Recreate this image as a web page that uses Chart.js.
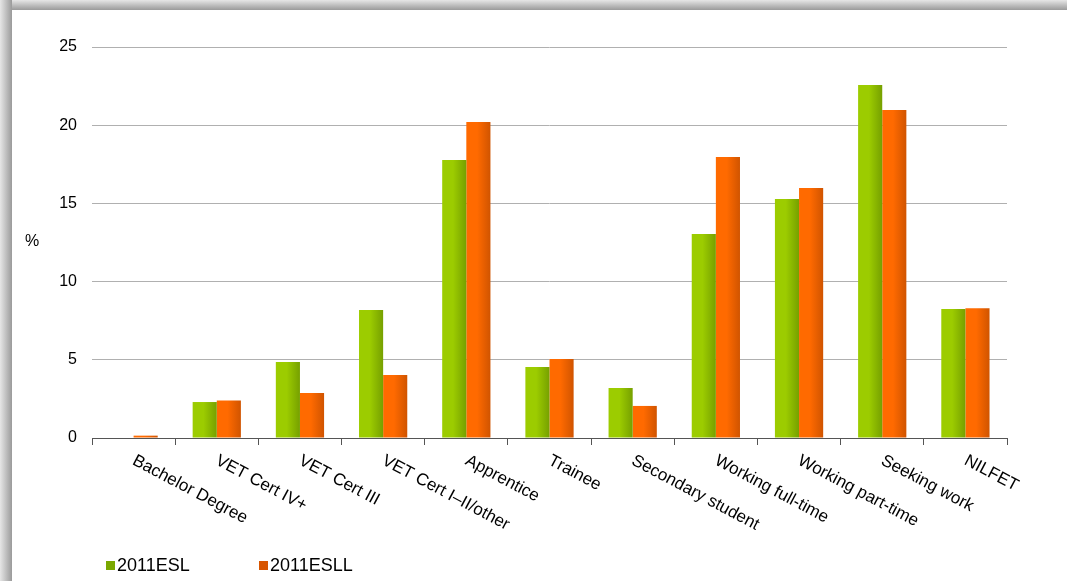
<!DOCTYPE html>
<html>
<head>
<meta charset="utf-8">
<script src="https://cdn.jsdelivr.net/npm/chart.js@4.4.1/dist/chart.umd.min.js"></script>
<style>
    html, body { margin: 0; padding: 0; background: #fff; }
    #wrap { width: 1067px; height: 581px; position: relative; }
</style>
</head>
<body>
<div id="wrap"><canvas id="chart" width="1067" height="581"></canvas></div>
<script>
// Données du graphique
const categories = ['Bachelor Degree', 'VET Cert IV+', 'VET Cert III', 'VET Cert I\u2013II/other',
    'Apprentice', 'Trainee', 'Secondary student', 'Working full-time',
    'Working part-time', 'Seeking work', 'NILFET'];
const esl = [0, 2.3, 4.86, 8.18, 17.77, 4.54, 3.2, 13.04, 15.28, 22.57, 8.25];
const esll = [0.15, 2.4, 2.88, 4.03, 20.2, 5.05, 2.05, 17.97, 15.98, 20.97, 8.3];
const yTicks = [0, 5, 10, 15, 20, 25];

const FONT = '"Liberation Sans", Arial, sans-serif';

// Couleurs des séries (clair -> foncé)
const seriesColors = [
    { light: '#9ccc00', dark: '#76a000', legend: '#7aa800' },
    { light: '#ff6a00', dark: '#d05400', legend: '#d85500' }
];

// Cadre gris (ombre en haut et à gauche)
const framePlugin = {
    id: 'frame',
    beforeDraw(chart) {
        const ctx = chart.ctx;
        ctx.save();
        let g = ctx.createLinearGradient(0, 0, 0, 10);
        g.addColorStop(0, '#e6e6e6');
        g.addColorStop(1, '#9a9a9a');
        ctx.fillStyle = g;
        ctx.fillRect(0, 0, chart.width, 10);
        g = ctx.createLinearGradient(0, 0, 12, 0);
        g.addColorStop(0, '#e6e6e6');
        g.addColorStop(1, '#9a9a9a');
        ctx.fillStyle = g;
        ctx.fillRect(0, 0, 12, chart.height);
        ctx.restore();
    }
};

// Dégradé horizontal sur chaque barre
const gradientPlugin = {
    id: 'barGradient',
    beforeDatasetsDraw(chart) {
        const ctx = chart.ctx;
        chart.data.datasets.forEach(function(ds, i) {
            const meta = chart.getDatasetMeta(i);
            meta.data.forEach(function(bar) {
                const x0 = bar.x - bar.width / 2;
                const g = ctx.createLinearGradient(x0, 0, x0 + bar.width, 0);
                g.addColorStop(0, seriesColors[i].light);
                g.addColorStop(0.45, seriesColors[i].light);
                g.addColorStop(1, seriesColors[i].dark);
                bar.options.backgroundColor = g;
            });
        });
    }
};

// Libellés inclinés, titre de l'axe et légende
const labelsPlugin = {
    id: 'labels',
    afterDraw(chart) {
        const ctx = chart.ctx;
        const xScale = chart.scales.x;
        const bottom = chart.chartArea.bottom;
        ctx.save();
        ctx.fillStyle = '#000';
        ctx.font = '17px ' + FONT;
        ctx.textAlign = 'left';
        ctx.textBaseline = 'top';
        categories.forEach(function(label, i) {
            const x = xScale.getPixelForTick(i);
            ctx.save();
            ctx.translate(x + 4, bottom + 14);
            ctx.rotate(28 * Math.PI / 180);
            ctx.fillText(label, 0, 0);
            ctx.restore();
        });

        // Titre de l'axe Y
        ctx.font = '16px ' + FONT;
        ctx.textBaseline = 'middle';
        ctx.fillText('%', 25, 242);

        // Légende
        const names = chart.data.datasets.map(function(d) { return d.label; });
        const lx = [106, 259];
        names.forEach(function(name, i) {
            ctx.fillStyle = seriesColors[i].legend;
            ctx.fillRect(lx[i], 561, 9, 9);
            ctx.fillStyle = '#000';
            ctx.font = '18px ' + FONT;
            ctx.textBaseline = 'middle';
            ctx.fillText(name, lx[i] + 11, 566);
        });
        ctx.restore();
    }
};

new Chart(document.getElementById('chart').getContext('2d'), {
    type: 'bar',
    data: {
        labels: categories,
        datasets: [{
            label: '2011ESL',
            data: esl,
            backgroundColor: function() { return seriesColors[0].light; },
            borderWidth: 0
        }, {
            label: '2011ESLL',
            data: esll,
            backgroundColor: function() { return seriesColors[1].light; },
            borderWidth: 0
        }]
    },
    options: {
        responsive: false,
        animation: false,
        layout: { padding: { top: 47, right: 60, left: 0, bottom: 0 } },
        plugins: {
            legend: { display: false },
            tooltip: { enabled: false }
        },
        datasets: {
            bar: { categoryPercentage: 0.58, barPercentage: 1.0 }
        },
        scales: {
            x: {
                grid: {
                    offset: true,
                    drawOnChartArea: false,
                    drawTicks: true,
                    tickLength: 7,
                    color: '#555'
                },
                border: { color: '#555', width: 1 },
                ticks: { display: false },
                afterFit: function(s) { s.height = 143; }
            },
            y: {
                min: 0,
                max: 25,
                afterBuildTicks: function(s) {
                    s.ticks = yTicks.map(function(v) { return { value: v }; });
                },
                grid: {
                    drawTicks: false,
                    color: function(c) { return c.tick.value === 0 ? 'rgba(0,0,0,0)' : '#b0b0b0'; },
                    lineWidth: 1
                },
                border: { display: false },
                ticks: {
                    padding: 15,
                    color: '#000',
                    font: { family: FONT, size: 16 }
                },
                afterFit: function(s) { s.width = 92; }
            }
        }
    },
    plugins: [framePlugin, gradientPlugin, labelsPlugin]
});
</script>
</body>
</html>
